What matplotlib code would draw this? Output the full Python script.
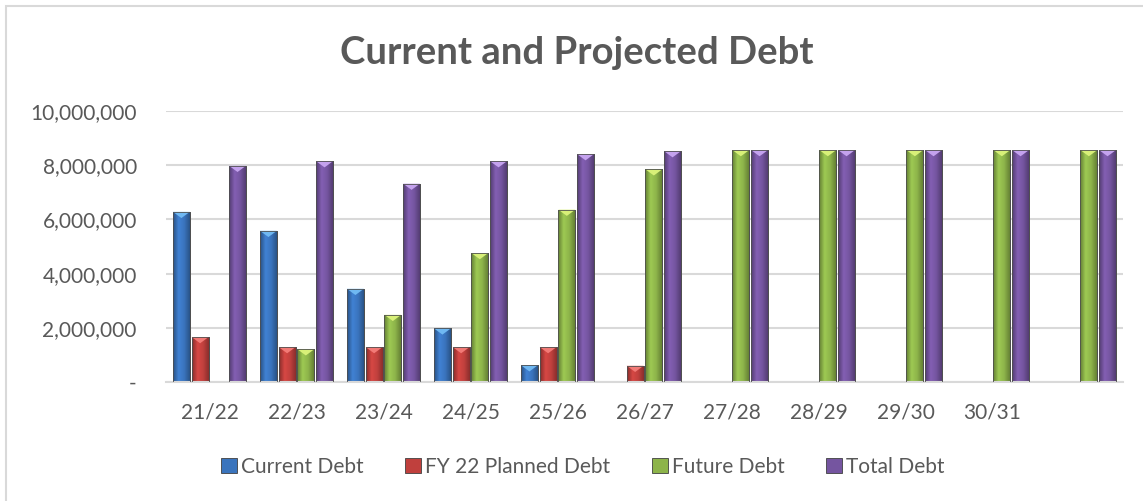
import matplotlib
matplotlib.use("Agg")
import matplotlib.pyplot as plt
from matplotlib.patches import Patch, Polygon, Rectangle
from matplotlib.colors import LinearSegmentedColormap, to_rgb
from matplotlib.ticker import FuncFormatter
import numpy as np

plt.rcParams["font.family"] = ["Lato", "DejaVu Sans"]

years = ["21/22", "22/23", "23/24", "24/25", "25/26", "26/27",
         "27/28", "28/29", "29/30", "30/31", ""]
current_debt = [6280000, 5580000, 3440000, 1980000, 620000, 0, 0, 0, 0, 0, 0]
planned_debt = [1660000, 1290000, 1290000, 1290000, 1290000, 600000, 0, 0, 0, 0, 0]
future_debt = [0, 1210000, 2480000, 4760000, 6360000, 7850000,
               8560000, 8560000, 8560000, 8560000, 8560000]
total_debt = [7980000, 8150000, 7320000, 8150000, 8410000, 8520000,
              8560000, 8560000, 8560000, 8560000, 8560000]

series = [
    ("Current Debt", current_debt, "#3a74bd", "#6fb8f2"),
    ("FY 22 Planned Debt", planned_debt, "#c0403d", "#f27a76"),
    ("Future Debt", future_debt, "#8db44a", "#d8f078"),
    ("Total Debt", total_debt, "#7555a0", "#c4a2ee"),
]

TEXT = "#595959"
GRID = "#d9d9d9"
BAR_W = 0.195
STEP = 0.215

fig = plt.figure(figsize=(11.43, 5.01), dpi=100)
ax = fig.add_axes([0.1452, 0.2375, 0.9825 - 0.1452, 0.7784 - 0.2375])

# chart border (left + top visible in the original)
fig.patches.append(Rectangle((6 / 1143, -0.05), 1.2, 1 - 6 / 501 + 0.05,
                             transform=fig.transFigure, fill=False,
                             edgecolor=GRID, linewidth=1.5))

x = np.arange(len(years))
tri_h = 230000

for i, (name, vals, col, tip) in enumerate(series):
    off = (i - 1.5) * STEP
    vals_arr = np.array(vals, dtype=float)
    mask = vals_arr > 0
    bars = ax.bar(x[mask] + off, vals_arr[mask], BAR_W, color=col,
                  edgecolor="#404040", linewidth=0.6, zorder=2)
    base = np.array(to_rgb(col))
    cmap = LinearSegmentedColormap.from_list(
        name, [base * 0.7, np.minimum(base * 1.12, 1), base * 1.0, base * 0.72])
    grad = np.linspace(0, 1, 64).reshape(1, -1)
    for b in bars:
        bx, bw, bh = b.get_x(), b.get_width(), b.get_height()
        im = ax.imshow(grad, cmap=cmap, extent=[bx, bx + bw, 0, bh],
                       aspect="auto", zorder=2.5, interpolation="bilinear")
        im.set_clip_path(b)
        ax.add_patch(Polygon([[bx, bh], [bx + bw, bh], [bx + bw / 2, bh - tri_h]],
                             closed=True, facecolor=tip, edgecolor="none",
                             zorder=3))
        ax.add_patch(Rectangle((bx, 0), bw, bh, fill=False,
                               edgecolor="#505050", linewidth=0.6, zorder=3.5))

ax.set_xlim(-0.5, len(years) - 0.5)
ax.set_ylim(0, 10000000)
ax.set_yticks(np.arange(0, 10000001, 2000000))
ax.yaxis.set_major_formatter(FuncFormatter(
    lambda v, p: "-" if v == 0 else f"{int(v):,}"))
ax.set_xticks(x)
ax.set_xticklabels(years)
ax.grid(axis="y", color=GRID, linewidth=1.5, zorder=0)
ax.set_axisbelow(True)
for s in ["top", "right", "left"]:
    ax.spines[s].set_visible(False)
ax.spines["bottom"].set_color(GRID)
ax.spines["bottom"].set_linewidth(1.5)
ax.tick_params(axis="both", length=0, labelsize=15, colors=TEXT)
ax.tick_params(axis="y", pad=21)
ax.tick_params(axis="x", pad=15)

fig.text(0.505, 0.895, "Current and Projected Debt", ha="center", va="center",
         fontsize=27.5, fontweight="bold", color=TEXT)

handles = [Patch(facecolor=c, edgecolor="#404040", linewidth=0.6, label=n)
           for n, _, c, _ in series]
fig.legend(handles=handles, loc="center", bbox_to_anchor=(0.51, 0.068),
           ncol=4, frameon=False, fontsize=15, labelcolor=TEXT,
           handlelength=0.75, handleheight=0.75, handletextpad=0.2,
           columnspacing=2.0)

fig.savefig("out.png", dpi=100)
